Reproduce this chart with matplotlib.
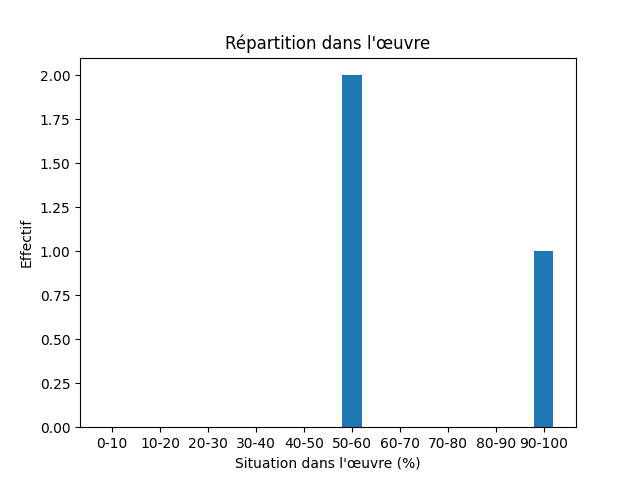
import matplotlib
matplotlib.use("Agg")
import matplotlib.pyplot as plt

# Données
categories = ["0-10", "10-20", "20-30", "30-40", "40-50",
              "50-60", "60-70", "70-80", "80-90", "90-100"]
effectifs = [0, 0, 0, 0, 0, 2, 0, 0, 0, 1]

fig, ax = plt.subplots(figsize=(6.4, 4.8), dpi=100)
ax.bar(categories, effectifs, width=0.4, color="#1f77b4")
ax.set_title("Répartition dans l'œuvre")
ax.set_xlabel("Situation dans l'œuvre (%)")
ax.set_ylabel("Effectif")

fig.savefig("out.png")
